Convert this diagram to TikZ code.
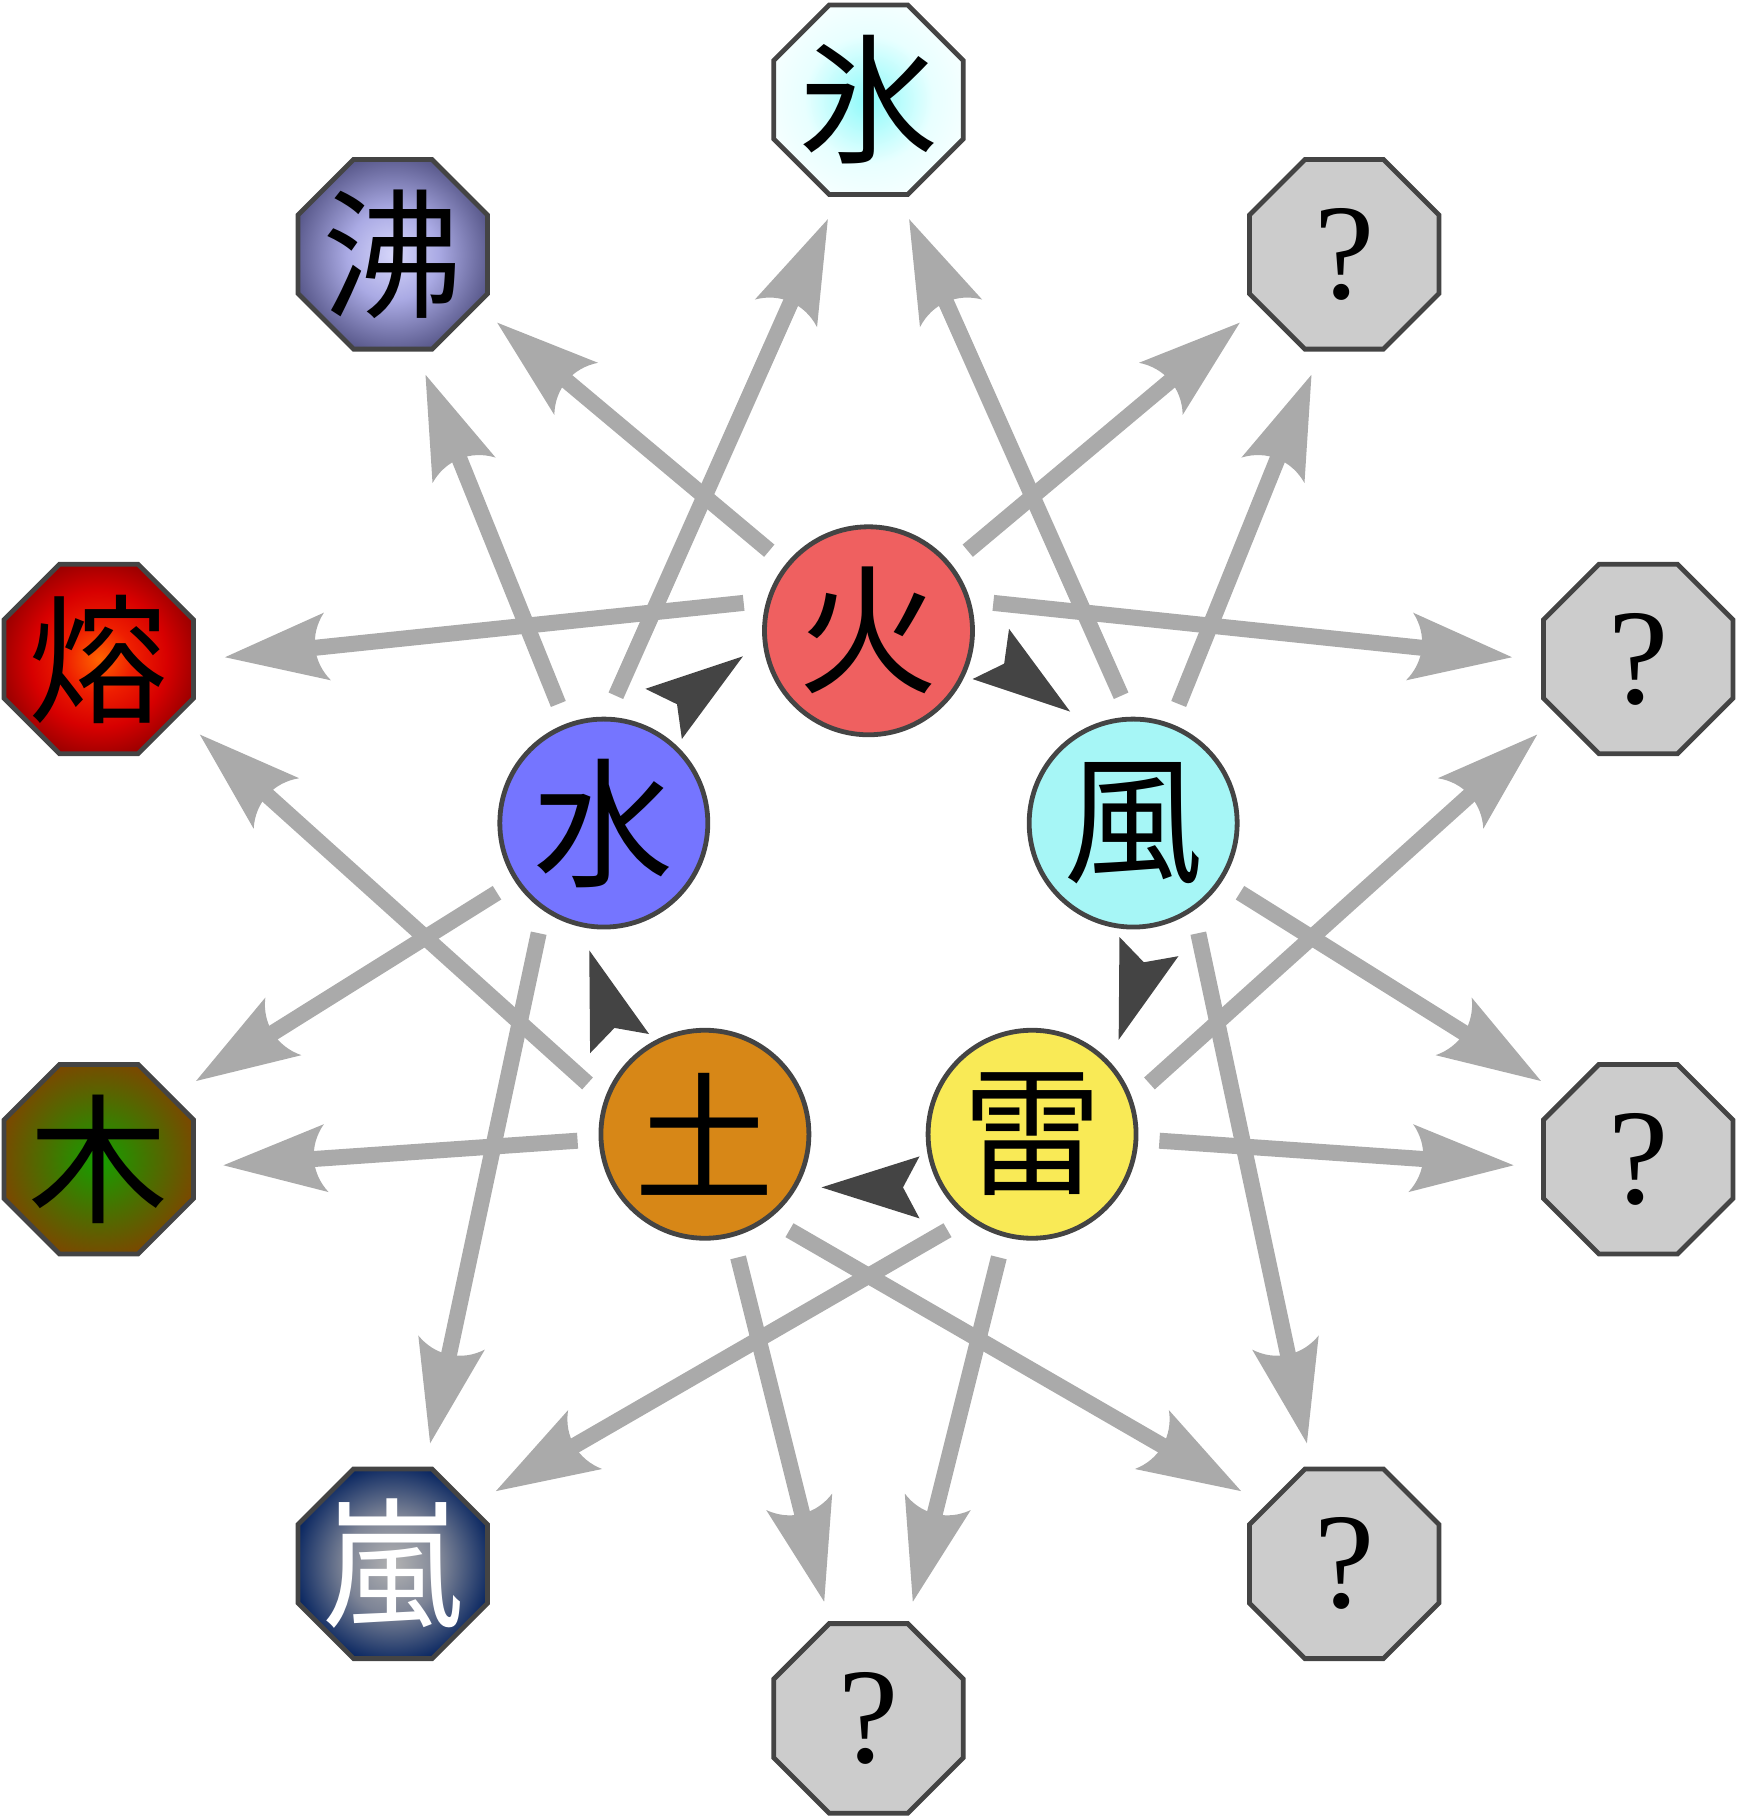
\documentclass[tikz,border=0pt]{standalone}
\usepackage{fontspec}
\newfontfamily\cjk{Noto Sans CJK JP}
\newfontfamily\qfont{Liberation Serif}
\usetikzlibrary{arrows.meta,shapes.geometric,calc}

\definecolor{edgec}{HTML}{444444}
\definecolor{arrgray}{HTML}{AAAAAA}
\definecolor{darkc}{HTML}{444444}
\definecolor{qgray}{HTML}{CCCCCC}
\definecolor{firec}{HTML}{EF6060}
\definecolor{waterc}{HTML}{7575FF}
\definecolor{windc}{HTML}{A6F6F6}
\definecolor{earthc}{HTML}{D78717}
\definecolor{thunderc}{HTML}{F9EA56}

\definecolor{iceA}{RGB}{140,250,250}
\definecolor{iceB}{RGB}{232,255,255}
\definecolor{iceC}{RGB}{246,255,255}
\definecolor{boilA}{RGB}{214,214,250}
\definecolor{boilB}{RGB}{170,170,228}
\definecolor{boilC}{RGB}{85,85,135}
\definecolor{lavaA}{RGB}{255,100,0}
\definecolor{lavaB}{RGB}{238,30,0}
\definecolor{lavaC}{RGB}{215,0,0}
\definecolor{lavaD}{RGB}{150,0,0}
\definecolor{woodA}{RGB}{20,160,0}
\definecolor{woodB}{RGB}{70,115,0}
\definecolor{woodC}{RGB}{125,70,0}
\definecolor{stormA}{RGB}{178,178,178}
\definecolor{stormB}{RGB}{125,132,150}
\definecolor{stormC}{RGB}{5,35,95}

\pgfdeclareradialshading{iceshade}{\pgfpoint{0bp}{0bp}}{color(0bp)=(iceA); color(17bp)=(iceB); color(27bp)=(iceC); color(50bp)=(iceC)}
\pgfdeclareradialshading{boilshade}{\pgfpoint{0bp}{0bp}}{color(0bp)=(boilA); color(12bp)=(boilB); color(27bp)=(boilC); color(50bp)=(boilC)}
\pgfdeclareradialshading{lavashade}{\pgfpoint{0bp}{0bp}}{color(0bp)=(lavaA); color(9bp)=(lavaB); color(18bp)=(lavaC); color(27bp)=(lavaD); color(50bp)=(lavaD)}
\pgfdeclareradialshading{woodshade}{\pgfpoint{0bp}{0bp}}{color(0bp)=(woodA); color(13bp)=(woodB); color(27bp)=(woodC); color(50bp)=(woodC)}
\pgfdeclareradialshading{stormshade}{\pgfpoint{0bp}{0bp}}{color(0bp)=(stormA); color(13bp)=(stormB); color(27bp)=(stormC); color(50bp)=(stormC)}

\pgfdeclarearrow{
  name = Barb2,
  parameters = {\the\pgfarrowlength,\the\pgfarrowwidth},
  setup code = {
    \pgfarrowssettipend{0pt}
    \pgfarrowssetlineend{-0.5\pgfarrowlength}
    \pgfarrowssetbackend{-\pgfarrowlength}
    \pgfarrowsupperhullpoint{0pt}{0pt}
    \pgfarrowsupperhullpoint{-\pgfarrowlength}{0.5\pgfarrowwidth}
    \pgfarrowssavethe\pgfarrowlength
    \pgfarrowssavethe\pgfarrowwidth
  },
  drawing code = {
    \pgfpathmoveto{\pgfqpoint{0pt}{0pt}}
    \pgfpathlineto{\pgfqpoint{-\pgfarrowlength}{0.5\pgfarrowwidth}}
    \pgfpathcurveto{\pgfqpoint{-0.84\pgfarrowlength}{0.2\pgfarrowwidth}}{\pgfqpoint{-0.84\pgfarrowlength}{-0.2\pgfarrowwidth}}{\pgfqpoint{-\pgfarrowlength}{-0.5\pgfarrowwidth}}
    \pgfpathclose
    \pgfusepathqfill
  },
  defaults = {length = 10pt, width = 7pt}
}

\begin{document}
\begin{tikzpicture}[x=0.5pt,y=0.5pt,
  circ/.style={circle, draw=edgec, line width=2.4pt, minimum size=104pt, inner sep=0pt},
  octo/.style={regular polygon, regular polygon sides=8, draw=edgec, line width=2.4pt, minimum size=102.6pt, inner sep=0pt},
  ktext/.style={inner sep=0pt, font={\cjk\fontsize{70pt}{80pt}\selectfont}},
  qtext/.style={inner sep=0pt, font={\qfont\fontsize{68pt}{80pt}\selectfont}},
  garrow/.style={draw=arrgray, fill=arrgray, line width=8pt, -{Barb2[length=51.5pt,width=34pt]}},
  darkhead/.style={fill=darkc}
]
\useasboundingbox (-868.5,-908.9) rectangle (868.5,909.1);

% octagons
\node[octo, shading=iceshade]   (o0) at (90:809.3)  {};
\node[octo, shading=boilshade]  (o1) at (126:809.3) {};
\node[octo, shading=lavashade]  (o2) at (162:809.3) {};
\node[octo, shading=woodshade]  (o3) at (198:809.3) {};
\node[octo, shading=stormshade] (o4) at (234:809.3) {};
\node[octo, fill=qgray] (o5) at (270:809.3) {};
\node[octo, fill=qgray] (o6) at (306:809.3) {};
\node[octo, fill=qgray] (o7) at (342:809.3) {};
\node[octo, fill=qgray] (o8) at (18:809.3)  {};
\node[octo, fill=qgray] (o9) at (54:809.3)  {};

\node[ktext] (t0) at (o0) {氷};
\node[ktext] (t1) at (o1) {沸};
\node[ktext] (t2) at (o2) {熔};
\node[ktext] (t3) at (o3) {木};
\node[ktext, text=white] (t4) at (o4) {嵐};
\node[qtext] (t5) at (o5) {?};
\node[qtext] (t6) at (o6) {?};
\node[qtext] (t7) at (o7) {?};
\node[qtext] (t8) at (o8) {?};
\node[qtext] (t9) at (o9) {?};

% circles
\node[circ, fill=firec,    ktext] (c0) at (90:278.3)  {火};
\node[circ, fill=waterc,   ktext] (c1) at (162:278.3) {水};
\node[circ, fill=earthc,   ktext] (c2) at (234:278.3) {土};
\node[circ, fill=thunderc, ktext] (c3) at (306:278.3) {雷};
\node[circ, fill=windc,    ktext] (c4) at (18:278.3)  {風};

% gray arrows
\foreach \k in {0,...,4}{
  \pgfmathtruncatemacro\ia{mod(2*\k+1,10)}
  \pgfmathtruncatemacro\ib{mod(2*\k+2,10)}
  \pgfmathtruncatemacro\ic{mod(2*\k+9,10)}
  \pgfmathtruncatemacro\id{mod(2*\k+8,10)}
  \pgfmathsetmacro\r{72*\k}
  \draw[garrow] ($(c\k)+({141.1+\r}:127.5)$) -- ($(o\ia)+({-33.2+\r}:124.8)$);
  \draw[garrow] ($(c\k)+({167.4+\r}:127.9)$) -- ($(o\ib)+({0.8+\r}:126.2)$);
  \draw[garrow] ($(c\k)+({38.9+\r}:127.5)$) -- ($(o\ic)+({213.2+\r}:124.8)$);
  \draw[garrow] ($(c\k)+({12.6+\r}:127.9)$) -- ($(o\id)+({179.2+\r}:126.2)$);
}

% dark cycle arrowheads
\foreach \p in {54,-18,-90,-162,126}{
  \fill[darkhead, shift={(\p:278.3)}, rotate=\p-90] (47,0) -- (-51,31) -- (-34.5,0) -- (-51,-31) -- cycle;
}
\end{tikzpicture}
\end{document}
